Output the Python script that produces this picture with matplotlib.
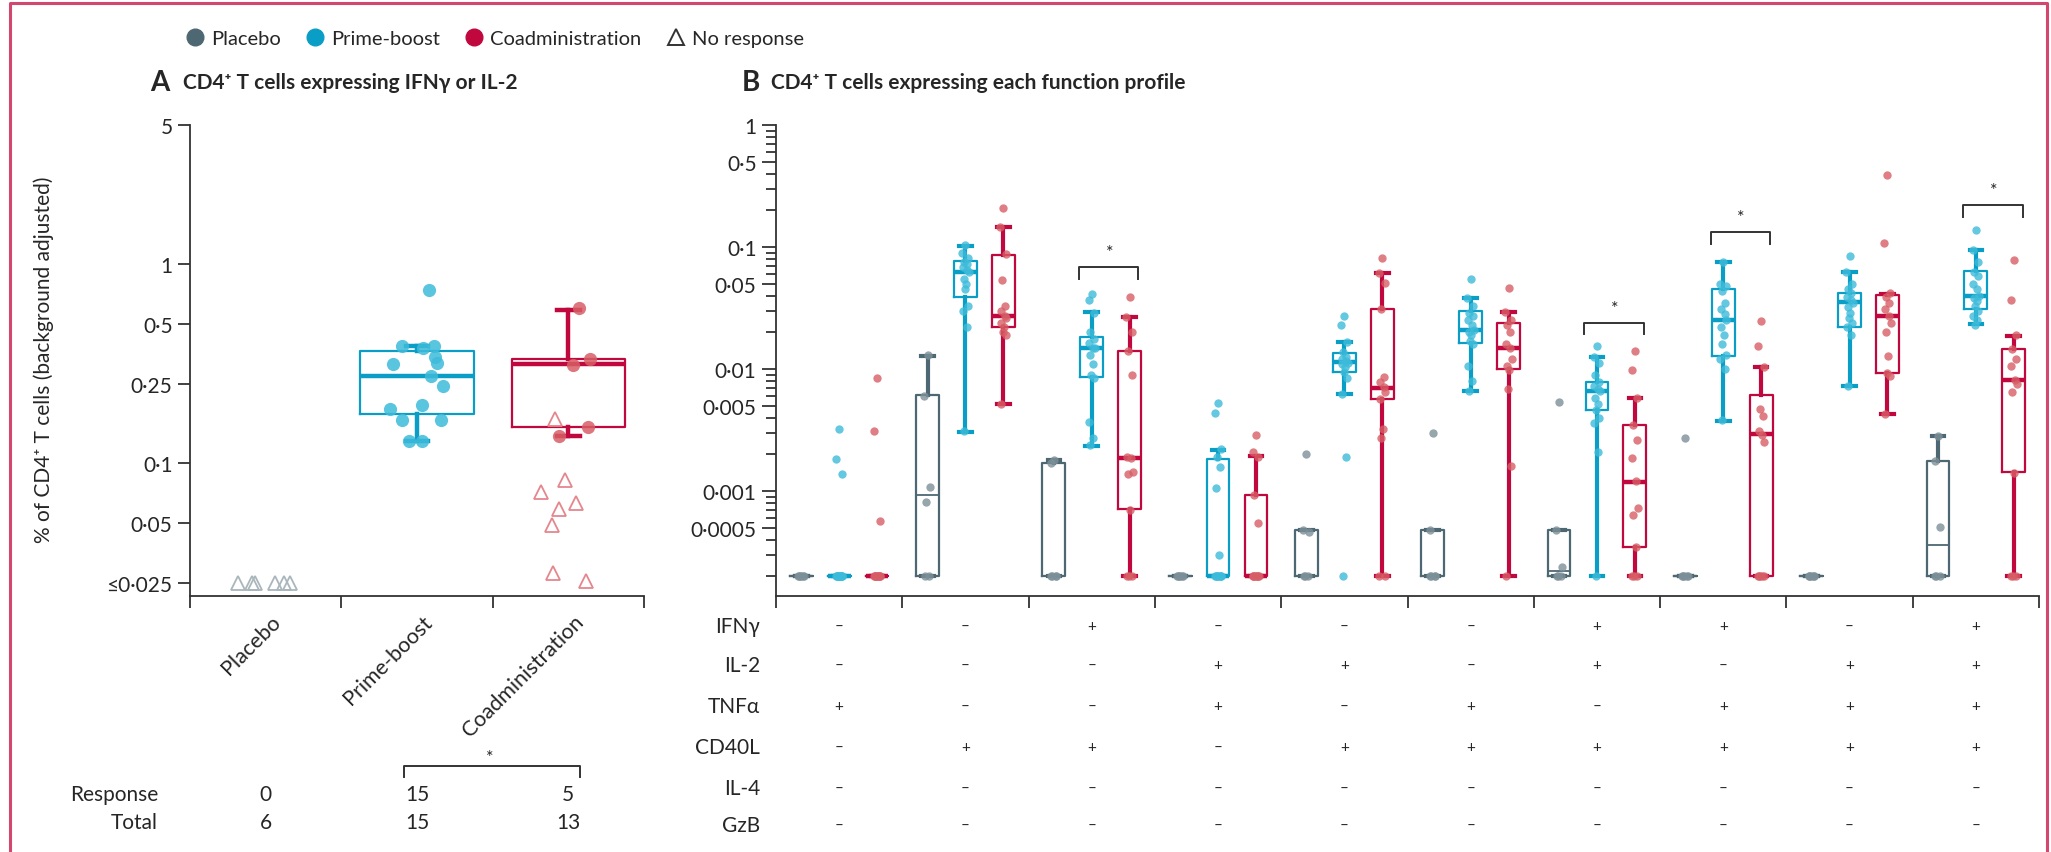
import matplotlib
matplotlib.use('Agg')
import matplotlib.pyplot as plt
from matplotlib.lines import Line2D
from matplotlib.ticker import NullLocator
from matplotlib.transforms import blended_transform_factory

W, H = 2051, 853

# ---------------- data: panel A ----------------
groups_a = ['Placebo', 'Prime-boost', 'Coadministration']
a_pla_nr = [0.025, 0.025, 0.025, 0.025, 0.025, 0.025]
a_pla_nr_dx = [-0.18, -0.09, -0.07, 0.06, 0.12, 0.16]
a_pb = [0.74, 0.39, 0.38, 0.39, 0.34, 0.32, 0.315, 0.274, 0.244, 0.195, 0.187, 0.165, 0.165, 0.129, 0.129]
a_pb_dx = [0.08, -0.10, 0.04, 0.11, 0.12, 0.13, -0.16, 0.09, 0.17, 0.03, -0.18, -0.10, 0.16, -0.05, 0.03]
a_co = [0.60, 0.333, 0.31, 0.152, 0.137]
a_co_dx = [0.07, 0.14, 0.03, 0.13, -0.06]
a_co_nr = [0.167, 0.082, 0.072, 0.063, 0.059, 0.049, 0.028, 0.0255]
a_co_nr_dx = [-0.09, -0.02, -0.18, 0.05, -0.06, -0.11, -0.10, 0.12]
# box stats: whislo, q1, median, q3, whishi
a_pb_box = [0.129, 0.177, 0.274, 0.366, 0.39]
a_co_box = [0.137, 0.152, 0.315, 0.333, 0.588]
response = [0, 15, 5]
total = [6, 15, 13]

# ---------------- data: panel B ----------------
profile_rows = ['IFNγ', 'IL-2', 'TNFα', 'CD40L', 'IL-4', 'GzB']
profile_signs = ['--+---++-+',
                 '---++-+-++',
                 '+--+-+-+++',
                 '-++-++++++',
                 '----------',
                 '----------']

b_pla = [
    [0.0002, 0.0002, 0.0002, 0.0002, 0.0002, 0.0002],
    [0.013, 0.006, 0.00107, 0.00081, 0.0002, 0.0002],
    [0.0018, 0.0017, 0.0002, 0.0002, 0.0002, 0.0002],
    [0.0002, 0.0002, 0.0002, 0.0002, 0.0002, 0.0002],
    [0.002, 0.00048, 0.00046, 0.0002, 0.0002, 0.0002],
    [0.003, 0.00048, 0.0002, 0.0002, 0.0002, 0.0002],
    [0.0054, 0.00048, 0.00024, 0.0002, 0.0002, 0.0002],
    [0.0027, 0.0002, 0.0002, 0.0002, 0.0002, 0.0002],
    [0.0002, 0.0002, 0.0002, 0.0002, 0.0002, 0.0002],
    [0.0028, 0.00175, 0.00051, 0.0002, 0.0002, 0.0002],
]
b_pb = [
    [0.0032, 0.00183, 0.00138, 0.0002, 0.0002, 0.0002, 0.0002, 0.0002, 0.0002, 0.0002, 0.0002, 0.0002, 0.0002, 0.0002, 0.0002],
    [0.103, 0.09, 0.082, 0.076, 0.072, 0.068, 0.065, 0.063, 0.055, 0.05, 0.045, 0.033, 0.030, 0.022, 0.0031],
    [0.041, 0.037, 0.029, 0.020, 0.0175, 0.0162, 0.015, 0.0148, 0.013, 0.011, 0.0089, 0.0085, 0.0037, 0.0027, 0.0024],
    [0.0053, 0.0044, 0.0022, 0.0019, 0.00156, 0.00105, 0.0003, 0.0002, 0.0002, 0.0002, 0.0002, 0.0002, 0.0002, 0.0002, 0.0002],
    [0.0274, 0.023, 0.0168, 0.0138, 0.0125, 0.012, 0.0116, 0.0113, 0.011, 0.0104, 0.0095, 0.0085, 0.0063, 0.0019, 0.0002],
    [0.055, 0.038, 0.033, 0.029, 0.027, 0.025, 0.023, 0.021, 0.020, 0.019, 0.017, 0.016, 0.0106, 0.008, 0.0066],
    [0.0153, 0.0125, 0.0112, 0.0089, 0.0079, 0.0072, 0.0068, 0.0066, 0.0058, 0.0052, 0.0046, 0.0040, 0.0036, 0.0021, 0.0002],
    [0.075, 0.05, 0.048, 0.044, 0.035, 0.031, 0.028, 0.025, 0.022, 0.019, 0.016, 0.013, 0.012, 0.010, 0.0038],
    [0.084, 0.063, 0.05, 0.045, 0.042, 0.039, 0.037, 0.035, 0.032, 0.029, 0.026, 0.024, 0.022, 0.019, 0.0072],
    [0.138, 0.094, 0.075, 0.063, 0.058, 0.05, 0.045, 0.04, 0.038, 0.036, 0.033, 0.03, 0.027, 0.025, 0.023],
]
b_co = [
    [0.0085, 0.0031, 0.00057, 0.0002, 0.0002, 0.0002, 0.0002, 0.0002, 0.0002, 0.0002, 0.0002, 0.0002, 0.0002],
    [0.207, 0.145, 0.087, 0.054, 0.033, 0.030, 0.027, 0.026, 0.024, 0.022, 0.020, 0.019, 0.0052],
    [0.0387, 0.0265, 0.020, 0.014, 0.0089, 0.0019, 0.00185, 0.00144, 0.00137, 0.0007, 0.0002, 0.0002, 0.0002],
    [0.0029, 0.0021, 0.0019, 0.00093, 0.00055, 0.0002, 0.0002, 0.0002, 0.0002, 0.0002, 0.0002, 0.0002, 0.0002],
    [0.082, 0.061, 0.051, 0.031, 0.0086, 0.0078, 0.0071, 0.0065, 0.0057, 0.0032, 0.0027, 0.0002, 0.0002],
    [0.046, 0.0295, 0.025, 0.023, 0.02, 0.016, 0.0149, 0.012, 0.0105, 0.0098, 0.0069, 0.0016, 0.0002],
    [0.014, 0.0099, 0.0058, 0.0035, 0.0026, 0.00185, 0.0012, 0.00072, 0.00064, 0.00035, 0.0002, 0.0002, 0.0002],
    [0.0246, 0.0153, 0.0103, 0.0047, 0.0041, 0.0031, 0.0029, 0.0025, 0.0002, 0.0002, 0.0002, 0.0002, 0.0002],
    [0.389, 0.107, 0.042, 0.039, 0.035, 0.031, 0.027, 0.024, 0.020, 0.0127, 0.0092, 0.0088, 0.0043],
    [0.078, 0.037, 0.019, 0.0145, 0.012, 0.0105, 0.0081, 0.0075, 0.0065, 0.0014, 0.0002, 0.0002, 0.0002],
]
# box stats per group: whislo, q1, median, q3, whishi
b_pla_box = [
    [0.0002, 0.0002, 0.0002, 0.0002, 0.0002],
    [0.0002, 0.0002, 0.00093, 0.0061, 0.0129],
    [0.0002, 0.0002, 0.0002, 0.0017, 0.0018],
    [0.0002, 0.0002, 0.0002, 0.0002, 0.0002],
    [0.0002, 0.0002, 0.0002, 0.00048, 0.00048],
    [0.0002, 0.0002, 0.0002, 0.00048, 0.00048],
    [0.0002, 0.0002, 0.00022, 0.00048, 0.00048],
    [0.0002, 0.0002, 0.0002, 0.0002, 0.0002],
    [0.0002, 0.0002, 0.0002, 0.0002, 0.0002],
    [0.0002, 0.0002, 0.00036, 0.00175, 0.0028],
]
b_pb_box = [
    [0.0002, 0.0002, 0.0002, 0.0002, 0.0002],
    [0.00306, 0.0387, 0.063, 0.0763, 0.1026],
    [0.00235, 0.00855, 0.0148, 0.0184, 0.0291],
    [0.0002, 0.0002, 0.0002, 0.00183, 0.00217],
    [0.0063, 0.0095, 0.01135, 0.0135, 0.0168],
    [0.00664, 0.0162, 0.021, 0.030, 0.0382],
    [0.0002, 0.00464, 0.00656, 0.00787, 0.01246],
    [0.00377, 0.01286, 0.0254, 0.0453, 0.0749],
    [0.0072, 0.022, 0.0352, 0.042, 0.0628],
    [0.0234, 0.031, 0.0399, 0.0632, 0.0945],
]
b_co_box = [
    [0.0002, 0.0002, 0.0002, 0.0002, 0.0002],
    [0.0052, 0.022, 0.0272, 0.0865, 0.145],
    [0.0002, 0.00071, 0.00185, 0.01395, 0.0265],
    [0.0002, 0.0002, 0.0002, 0.00093, 0.00192],
    [0.0002, 0.00568, 0.00695, 0.031, 0.0612],
    [0.0002, 0.01, 0.0149, 0.0238, 0.0295],
    [0.0002, 0.000345, 0.00118, 0.00348, 0.00578],
    [0.0002, 0.0002, 0.00293, 0.00612, 0.0103],
    [0.00428, 0.0092, 0.027, 0.0404, 0.041],
    [0.0002, 0.00144, 0.00813, 0.0146, 0.0185],
]
sig_groups = [2, 6, 7, 9]
sig_tops = [0.069, 0.024, 0.133, 0.22]

# ---------------- style ----------------
PLA, PB, CO = '#4e6873', '#0a9ec6', '#c0083e'
PLA_PT, PB_PT, CO_PT = '#7d9099', '#3dbbda', '#d75e66'
PLA_TRI, CO_TRI = '#a9b6bc', '#e4878d'
TXT, AXC, FRAME = '#262626', '#333333', '#d3476f'
JIT = [0, -0.025, 0.02, -0.012, 0.015, -0.02, 0.01, 0.025, -0.015, 0.006, -0.006, 0.02, -0.022, 0.012, -0.01]

plt.rcParams['font.family'] = ['Lato', 'DejaVu Sans']
plt.rcParams['text.color'] = TXT
plt.rcParams['xtick.color'] = AXC
plt.rcParams['ytick.color'] = AXC
plt.rcParams['xtick.labelcolor'] = TXT
plt.rcParams['ytick.labelcolor'] = TXT

fig = plt.figure(figsize=(W / 100, H / 100), dpi=100)


def fx(px):
    return px / W


def fy(py):
    return 1 - py / H


def style_axes(ax):
    for s in ['top', 'right']:
        ax.spines[s].set_visible(False)
    for s in ['left', 'bottom']:
        ax.spines[s].set_color(AXC)
        ax.spines[s].set_linewidth(1.3)


def draw_box(ax, pos, st, color, width, capw, lw_box, lw_med, lw_wh):
    stats = [dict(whislo=st[0], q1=st[1], med=st[2], q3=st[3], whishi=st[4], fliers=[])]
    ax.bxp(stats, positions=[pos], widths=width, capwidths=capw, showfliers=False,
           manage_ticks=False,
           boxprops=dict(color=color, lw=lw_box),
           medianprops=dict(color=color, lw=lw_med, solid_capstyle='butt'),
           whiskerprops=dict(color=color, lw=lw_wh),
           capprops=dict(color=color, lw=lw_wh))


# ================= panel A =================
ax_a = fig.add_axes([fx(190), fy(597), fx(644) - fx(190), fy(126) - fy(597)])
style_axes(ax_a)
ax_a.set_yscale('log')
ax_a.set_ylim(0.0215, 5)
ax_a.set_xlim(-0.5, 2.5)
ax_a.yaxis.set_minor_locator(NullLocator())
ax_a.set_yticks([0.025, 0.05, 0.1, 0.25, 0.5, 1, 5])
ax_a.set_yticklabels(['≤0·025', '0·05', '0·1', '0·25', '0·5', '1', '5'])
ax_a.tick_params(axis='y', length=8.6, width=1.3, pad=4, labelsize=15)
ax_a.set_xticks([0, 1, 2])
ax_a.set_xticklabels([])
ax_a.tick_params(axis='x', which='major', length=0)
ax_a.set_xticks([-0.5, 0.5, 1.5, 2.5], minor=True)
ax_a.tick_params(axis='x', which='minor', length=8.6, width=1.3)

draw_box(ax_a, 1, a_pb_box, PB, 0.75, 0.15, 1.6, 3.2, 3.2)
draw_box(ax_a, 2, a_co_box, CO, 0.75, 0.15, 1.6, 3.2, 3.2)

ax_a.plot([0 + d for d in a_pla_nr_dx], a_pla_nr, '^', ms=10, mfc='none', mec=PLA_TRI, mew=1.3, zorder=3)
ax_a.plot([1 + d for d in a_pb_dx], a_pb, 'o', ms=9.5, color=PB_PT, alpha=0.85, mec='none', zorder=3)
ax_a.plot([2 + d for d in a_co_dx], a_co, 'o', ms=9.5, color=CO_PT, alpha=0.85, mec='none', zorder=3)
ax_a.plot([2 + d for d in a_co_nr_dx], a_co_nr, '^', ms=10, mfc='none', mec=CO_TRI, mew=1.3, zorder=3)

blend_a = blended_transform_factory(ax_a.transData, fig.transFigure)
for i, lab in enumerate(groups_a):
    ax_a.text(i + 0.08, fy(619), lab, transform=blend_a, rotation=45, ha='right', va='center',
              rotation_mode='anchor', fontsize=15.5)

fig.text(fx(44), fy(360), '% of CD4⁺ T cells (background adjusted)', rotation=90,
         ha='center', va='center', fontsize=15)

fig.text(fx(158), fy(795), 'Response', ha='right', va='center', fontsize=15)
fig.text(fx(158), fy(823), 'Total', ha='right', va='center', fontsize=15)
for i in range(3):
    ax_a.text(i, fy(795), str(response[i]), transform=blend_a, ha='center', va='center', fontsize=15)
    ax_a.text(i, fy(823), str(total[i]), transform=blend_a, ha='center', va='center', fontsize=15)
ax_a.plot([0.915, 0.915, 2.08, 2.08], [fy(778), fy(767), fy(767), fy(778)], transform=blend_a,
          clip_on=False, color=AXC, lw=1.4)
ax_a.text(1.48, fy(758), '*', transform=blend_a, ha='center', va='center', fontsize=13)

# ================= panel B =================
ax_b = fig.add_axes([fx(776), fy(597), fx(2039) - fx(776), fy(126) - fy(597)])
style_axes(ax_b)
ax_b.set_yscale('log')
ax_b.set_ylim(0.000138, 1)
ax_b.set_xlim(0, 10)
ax_b.set_yticks([0.0005, 0.001, 0.005, 0.01, 0.05, 0.1, 0.5, 1])
ax_b.set_yticklabels(['0·0005', '0·001', '0·005', '0·01', '0·05', '0·1', '0·5', '1'])
minor_b = [m * d for d in [1e-4, 1e-3, 1e-2, 1e-1] for m in [2, 3, 4, 6, 7, 8, 9]]
ax_b.set_yticks(minor_b, minor=True)
ax_b.yaxis.set_minor_formatter(plt.NullFormatter())
ax_b.tick_params(axis='y', which='major', length=10, width=1.3, pad=4, labelsize=15)
ax_b.tick_params(axis='y', which='minor', length=7.5, width=1.3)
ax_b.set_xticks(range(11))
ax_b.set_xticklabels([])
ax_b.tick_params(axis='x', length=8.6, width=1.3)

series = [(b_pla, b_pla_box, PLA, PLA_PT, -0.3, 1.6, 1.3),
          (b_pb, b_pb_box, PB, PB_PT, 0.0, 1.6, 3.2),
          (b_co, b_co_box, CO, CO_PT, 0.3, 1.6, 3.2)]
for vals, boxes, col, ptcol, off, lwb, lwm in series:
    for g in range(10):
        x0 = g + 0.5 + off
        draw_box(ax_b, x0, boxes[g], col, 0.18, 0.1, lwb, lwm, 3.0)
        ax_b.plot([x0 + JIT[k] for k in range(len(vals[g]))], vals[g], 'o', ms=6,
                  color=ptcol, alpha=0.8, mec='none', zorder=3)

for g, top in zip(sig_groups, sig_tops):
    xl, xr = g + 0.5 - 0.1, g + 0.5 + 0.37
    ax_b.plot([xl, xl, xr, xr], [top * 0.8, top, top, top * 0.8], color=AXC, lw=1.4, clip_on=False)
    ax_b.annotate('*', (g + 0.5 + 0.14, top), xytext=(0, 5), textcoords='offset points',
                  ha='center', va='bottom', fontsize=13)

blend_b = blended_transform_factory(ax_b.transData, fig.transFigure)
row_y = [627, 666, 707, 748, 789, 826]
for r, name in enumerate(profile_rows):
    fig.text(fx(760), fy(row_y[r]), name, ha='right', va='center', fontsize=15)
    for g, s in enumerate(profile_signs[r]):
        ax_b.text(g + 0.5, fy(row_y[r]), '+' if s == '+' else '–', transform=blend_b,
                  ha='center', va='center', fontsize=11)

# ================= titles, legend, frame =================
fig.text(fx(150), fy(83), 'A', fontsize=20, fontweight='bold', va='center')
fig.text(fx(183), fy(83), 'CD4⁺ T cells expressing IFNγ or IL-2', fontsize=15,
         fontweight='bold', va='center')
fig.text(fx(742), fy(83), 'B', fontsize=20, fontweight='bold', va='center')
fig.text(fx(771), fy(83), 'CD4⁺ T cells expressing each function profile', fontsize=15,
         fontweight='bold', va='center')

handles = [Line2D([], [], ls='none', marker='o', ms=12, color=PLA),
           Line2D([], [], ls='none', marker='o', ms=12, color=PB),
           Line2D([], [], ls='none', marker='o', ms=12, color=CO),
           Line2D([], [], ls='none', marker='^', ms=12, mfc='none', mec=AXC, mew=1.4)]
fig.legend(handles, ['Placebo', 'Prime-boost', 'Coadministration', 'No response'],
           loc='center left', bbox_to_anchor=(fx(186), fy(39)), ncol=4, frameon=False,
           fontsize=14.5, handlelength=0.9, handletextpad=0.35, columnspacing=1.25,
           borderpad=0, borderaxespad=0)

fig.add_artist(Line2D([fx(10), fx(10), fx(2047), fx(2047)], [0, fy(4), fy(4), 0],
                      color=FRAME, lw=2.2, transform=fig.transFigure))

fig.savefig('out.png', dpi=100)
